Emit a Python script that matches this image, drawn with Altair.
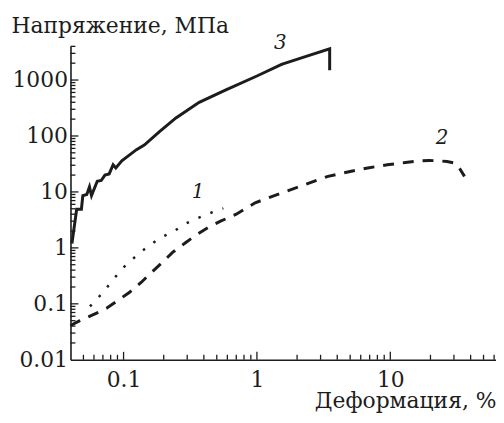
import altair as alt
import pandas as pd

# ---- data (strain %, stress MPa) ----
c1_x = [0.056, 0.0697, 0.083, 0.099, 0.123, 0.152, 0.191, 0.24, 0.285, 0.352, 0.433, 0.56]
c1_y = [0.09, 0.157, 0.267, 0.44, 0.70, 1.06, 1.53, 2.0, 2.63, 3.33, 4.08, 5.1]

c2_x = [0.04, 0.047, 0.065, 0.075, 0.094, 0.111, 0.136, 0.157, 0.197, 0.233, 0.293, 0.348,
        0.45, 0.534, 0.7, 0.97, 1.53, 2.29, 3.41, 5.1, 6.77, 9.5, 13.0, 16.8, 19.5, 23.0,
        26.6, 30.6, 33.5, 36.0]
c2_y = [0.041, 0.05, 0.071, 0.084, 0.122, 0.161, 0.243, 0.34, 0.56, 0.83, 1.25, 1.68,
        2.46, 3.0, 4.0, 6.4, 9.6, 13.5, 19, 23.4, 26.8, 30.6, 33.5, 36, 36.5, 36,
        35, 32.8, 25, 19]

c3_x = [0.041, 0.0445, 0.0483, 0.0495, 0.053, 0.0555, 0.0575, 0.0635, 0.068, 0.0725, 0.078,
        0.0835, 0.0875, 0.097, 0.125, 0.143, 0.186, 0.247, 0.369, 0.58, 1.0, 1.53, 2.4,
        3.51, 3.51]
c3_y = [1.2, 4.9, 4.9, 8.6, 9.0, 12.3, 8.6, 15.5, 16.0, 20, 21, 30.6, 26.8, 36, 57, 69,
        120, 210, 400, 660, 1180, 1900, 2700, 3620, 1490]

label_text = ["1", "2", "3"]
label_x = [0.362, 24.4, 1.5]
label_y = [9.76, 92.5, 4500]

x_major = [0.1, 1, 10]
x_minor = [0.05, 0.06, 0.07, 0.08, 0.09, 0.2, 0.3, 0.4, 0.5, 0.6, 0.7, 0.8, 0.9,
           2, 3, 4, 5, 6, 7, 8, 9, 20, 30, 40, 50, 60]
y_labels = [0.01, 0.1, 1, 10, 100, 1000]
y_major = [0.1, 1, 10, 100, 1000]
y_minor = [0.02, 0.03, 0.04, 0.05, 0.06, 0.07, 0.08, 0.09,
           0.2, 0.3, 0.4, 0.5, 0.6, 0.7, 0.8, 0.9,
           2, 3, 4, 5, 6, 7, 8, 9,
           20, 30, 40, 50, 60, 70, 80, 90,
           200, 300, 400, 500, 600, 700, 800, 900,
           2000, 3000, 4000]

FONT = "DejaVu Serif"
INK = "#1c1c1c"
W, H = 429, 316

xscale = alt.Scale(type="log", domain=[0.04, 62], nice=False)
yscale = alt.Scale(type="log", domain=[0.01, 4000], nice=False)


def series(xs, ys):
    return pd.DataFrame({"x": xs, "y": ys, "i": list(range(len(xs)))})


xaxis = alt.Axis(values=x_major, format="~g", ticks=False, tickSize=0, grid=False,
                 labelPadding=10, labelFont=FONT, labelFontSize=22, labelColor=INK,
                 labelFlush=False, labelOverlap=False,
                 domainColor=INK, domainWidth=1.6,
                 title="Деформация, %", titleFont=FONT, titleFontSize=22,
                 titleFontWeight="normal", titleColor=INK, titleAlign="right",
                 titleBaseline="alphabetic", titleX=429, titleY=48)
yaxis = alt.Axis(values=y_labels, format="~g", ticks=False, tickSize=0, grid=False,
                 labelPadding=3, labelFont=FONT, labelFontSize=22, labelColor=INK,
                 labelOverlap=False, domainColor=INK, domainWidth=1.6,
                 title="Напряжение, МПа", titleFont=FONT, titleFontSize=22,
                 titleFontWeight="normal", titleColor=INK, titleAngle=0,
                 titleAlign="left", titleBaseline="alphabetic", titleX=-60, titleY=-14)

X = alt.X("x:Q", scale=xscale, axis=xaxis)
Y = alt.Y("y:Q", scale=yscale, axis=yaxis)

solid = alt.Chart(series(c3_x, c3_y)).mark_line(color=INK, strokeWidth=3, strokeJoin="miter").encode(
    x=X, y=Y, order="i:Q")
dashed = alt.Chart(series(c2_x, c2_y)).mark_line(color=INK, strokeWidth=3, strokeDash=[11, 9]).encode(
    x=X, y=Y, order="i:Q")
dotted = alt.Chart(series(c1_x, c1_y)).mark_line(color=INK, strokeWidth=2.5, strokeDash=[2.5, 10.5]).encode(
    x=X, y=Y, order="i:Q")
labels = alt.Chart(pd.DataFrame({"x": label_x, "y": label_y, "t": label_text})).mark_text(
    font=FONT, fontSize=20, fontStyle="italic", color=INK, align="center", baseline="middle"
).encode(x=X, y=Y, text="t:N")


def yticks(vals, length):
    return alt.Chart(pd.DataFrame({"y": vals})).mark_rule(color=INK, strokeWidth=1.3).encode(
        y=Y, x=alt.value(0), x2=alt.value(length))


def xticks(vals, length):
    return alt.Chart(pd.DataFrame({"x": vals})).mark_rule(color=INK, strokeWidth=1.3).encode(
        x=X, y=alt.value(H), y2=alt.value(H - length))


chart = alt.layer(
    solid, dashed, dotted, labels,
    yticks(y_major, 8), yticks(y_minor, 5),
    xticks(x_major, 8), xticks(x_minor, 5),
).properties(
    width=W, height=H,
    autosize=alt.AutoSizeParams(type="none"),
    padding={"left": 63, "top": 37, "right": 0, "bottom": 53},
    background="white",
).configure_view(stroke=None)

chart.save("out.html", embed_options={"renderer": "svg", "actions": False})
